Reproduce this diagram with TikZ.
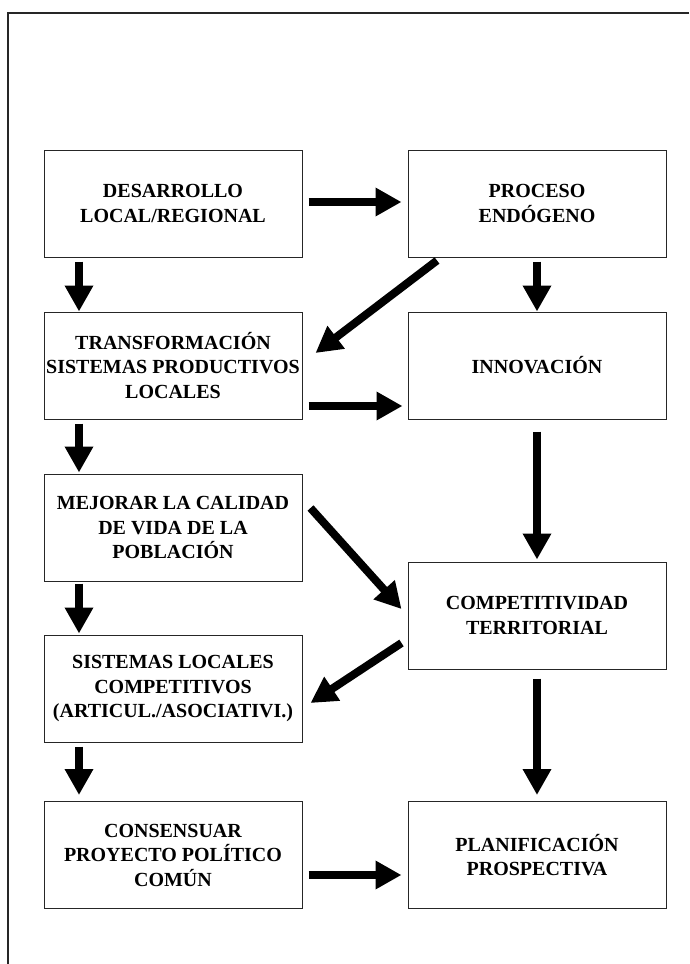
\documentclass[tikz,border=0pt]{standalone}
\usepackage{fontspec}
\setmainfont{Liberation Serif}
\usetikzlibrary{arrows.meta}
\begin{document}
\begin{tikzpicture}[x=1pt,y=-1pt,
  box/.style={draw=black!85, line width=1pt, minimum width=258pt, minimum height=107pt,
    inner sep=0pt, align=center, font=\fontsize{20pt}{24.5pt}\selectfont\bfseries},
  arr/.style={line width=8pt, -{Triangle[length=26pt,width=27pt]}}]
\useasboundingbox (0,0) rectangle (689,964);
\draw[line width=2pt, black!85] (689,12.5) -- (7.5,12.5) -- (7.5,964);
\node[box] (d) at (173,203.5) {DESARROLLO\\LOCAL/REGIONAL};
\node[box] (p) at (537,203.5) {PROCESO\\ENDÓGENO};
\node[box] (t) at (173,365.5) {TRANSFORMACIÓN\\SISTEMAS PRODUCTIVOS\\LOCALES};
\node[box] (i) at (537,365.5) {INNOVACIÓN};
\node[box] (m) at (173,527.5) {MEJORAR LA CALIDAD\\DE VIDA DE LA\\POBLACIÓN};
\node[box] (c) at (537,615.5) {COMPETITIVIDAD\\TERRITORIAL};
\node[box] (s) at (173,688.5) {SISTEMAS LOCALES\\COMPETITIVOS\\(ARTICUL./ASOCIATIVI.)};
\node[box] (co) at (173,855) {CONSENSUAR\\PROYECTO POLÍTICO\\COMÚN};
\node[box] (pl) at (537,855) {PLANIFICACIÓN\\PROSPECTIVA};
% horizontal
\draw[arr] ([xshift=6pt,yshift=1.5pt]d.east) -- ([xshift=-6pt,yshift=1.5pt]p.west);
\draw[arr] ([xshift=6pt,yshift=-40.5pt]t.east) -- ([xshift=-5pt,yshift=-40.5pt]i.west);
\draw[arr] ([xshift=6pt,yshift=-20pt]co.east) -- ([xshift=-6pt,yshift=-20pt]pl.west);
% vertical left
\draw[arr] ([xshift=-94pt,yshift=-4pt]d.south) -- ([xshift=-94pt]t.north);
\draw[arr] ([xshift=-94pt,yshift=-4pt]t.south) -- ([xshift=-94pt,yshift=1pt]m.north);
\draw[arr] ([xshift=-94pt,yshift=-2pt]m.south) -- ([xshift=-94pt,yshift=1pt]s.north);
\draw[arr] ([xshift=-94pt,yshift=-4pt]s.south) -- ([xshift=-94pt,yshift=6pt]co.north);
% vertical right
\draw[arr] ([yshift=-4pt]p.south) -- (i.north);
\draw[arr] ([yshift=-12pt]i.south) -- ([yshift=2pt]c.north);
\draw[arr] ([yshift=-9pt]c.south) -- ([yshift=6pt]pl.north);
% diagonals
\draw[arr] ([xshift=-100pt,yshift=-3pt]p.south) -- ([xshift=13pt,yshift=12.5pt]t.east);
\draw[arr] ([xshift=8pt,yshift=19.5pt]m.east) -- ([xshift=-6pt,yshift=6.5pt]c.west);
\draw[arr] ([xshift=-6pt,yshift=-27.5pt]c.west) -- ([xshift=8pt,yshift=-14.5pt]s.east);
\end{tikzpicture}
\end{document}
